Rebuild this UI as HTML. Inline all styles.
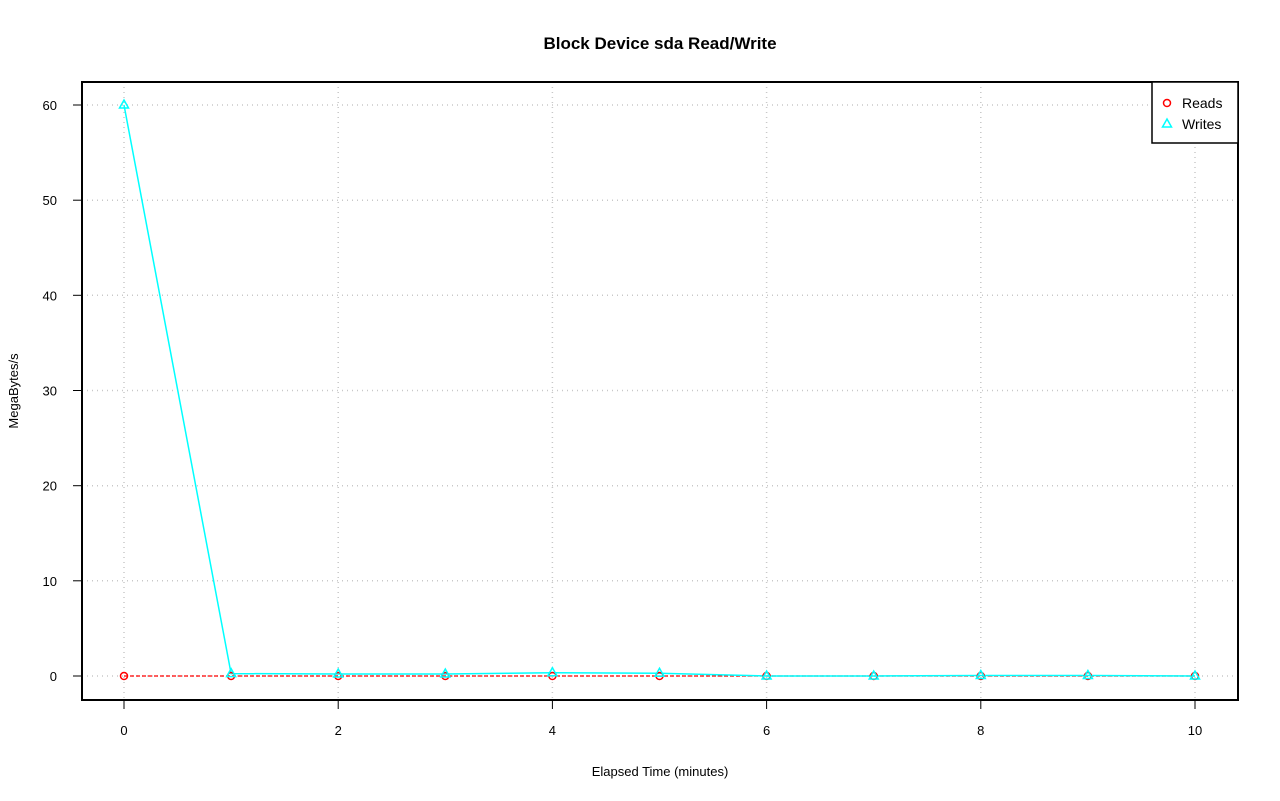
<!DOCTYPE html>
<html><head><meta charset="utf-8"><style>body{margin:0;background:#fff}svg{display:block}</style></head><body>
<svg width="1280" height="801" xmlns="http://www.w3.org/2000/svg" font-family="Liberation Sans, sans-serif">
<rect width="1280" height="801" fill="#fff"/>
<text x="660" y="49" text-anchor="middle" font-size="17" font-weight="bold">Block Device sda Read/Write</text>
<g stroke="#c8c8c8" stroke-dasharray="1,4" stroke-width="1.5">
<line x1="124" y1="82" x2="124" y2="700"/><line x1="338.2" y1="82" x2="338.2" y2="700"/><line x1="552.4" y1="82" x2="552.4" y2="700"/><line x1="766.6" y1="82" x2="766.6" y2="700"/><line x1="980.8" y1="82" x2="980.8" y2="700"/><line x1="1195" y1="82" x2="1195" y2="700"/>
<line x1="82" y1="676" x2="1238" y2="676"/><line x1="82" y1="580.8" x2="1238" y2="580.8"/><line x1="82" y1="485.7" x2="1238" y2="485.7"/><line x1="82" y1="390.5" x2="1238" y2="390.5"/><line x1="82" y1="295.3" x2="1238" y2="295.3"/><line x1="82" y1="200.2" x2="1238" y2="200.2"/><line x1="82" y1="105" x2="1238" y2="105"/>
</g>
<rect x="82" y="82" width="1156" height="618" fill="none" stroke="#000" stroke-width="2"/>
<g stroke="#000" stroke-width="1">
<line x1="124" y1="700" x2="124" y2="709"/><line x1="338.2" y1="700" x2="338.2" y2="709"/><line x1="552.4" y1="700" x2="552.4" y2="709"/><line x1="766.6" y1="700" x2="766.6" y2="709"/><line x1="980.8" y1="700" x2="980.8" y2="709"/><line x1="1195" y1="700" x2="1195" y2="709"/>
<line x1="73" y1="676" x2="82" y2="676"/><line x1="73" y1="580.8" x2="82" y2="580.8"/><line x1="73" y1="485.7" x2="82" y2="485.7"/><line x1="73" y1="390.5" x2="82" y2="390.5"/><line x1="73" y1="295.3" x2="82" y2="295.3"/><line x1="73" y1="200.2" x2="82" y2="200.2"/><line x1="73" y1="105" x2="82" y2="105"/>
</g>
<g font-size="13" text-anchor="middle">
<text x="124" y="735">0</text><text x="338.2" y="735">2</text><text x="552.4" y="735">4</text><text x="766.6" y="735">6</text><text x="980.8" y="735">8</text><text x="1195" y="735">10</text>
<text x="660" y="776">Elapsed Time (minutes)</text>
</g>
<g font-size="13" text-anchor="end">
<text x="57" y="681">0</text><text x="57" y="585.8">10</text><text x="57" y="490.7">20</text><text x="57" y="395.5">30</text><text x="57" y="300.3">40</text><text x="57" y="205.2">50</text><text x="57" y="110">60</text>
</g>
<text transform="translate(18,391) rotate(-90)" font-size="13" text-anchor="middle">MegaBytes/s</text>
<polyline fill="none" stroke="#f00" stroke-width="1.3" stroke-dasharray="4,2" points="124,676 231.1,676 338.2,676 445.3,676 552.4,676 659.5,676 766.6,676 873.7,676 980.8,676 1087.9,676 1195,676"/>
<polyline fill="none" stroke="#0ff" stroke-width="1.5" points="124,105 231.1,673.6 338.2,674 445.3,674 552.4,672.7 659.5,673.3 766.6,676 873.7,676 980.8,675.5 1087.9,675.5 1195,676"/>
<g fill="none" stroke="#f00" stroke-width="1.5">
<circle cx="124" cy="676" r="3.5"/><circle cx="231.1" cy="676" r="3.5"/><circle cx="338.2" cy="676" r="3.5"/><circle cx="445.3" cy="676" r="3.5"/><circle cx="552.4" cy="676" r="3.5"/><circle cx="659.5" cy="676" r="3.5"/><circle cx="766.6" cy="676" r="3.5"/><circle cx="873.7" cy="676" r="3.5"/><circle cx="980.8" cy="676" r="3.5"/><circle cx="1087.9" cy="676" r="3.5"/><circle cx="1195" cy="676" r="3.5"/>
</g>
<g fill="none" stroke="#0ff" stroke-width="1.5">
<path d="M124,100 l4.5,8 h-9 z"/><path d="M231.1,668.6 l4.5,8 h-9 z"/><path d="M338.2,669 l4.5,8 h-9 z"/><path d="M445.3,669 l4.5,8 h-9 z"/><path d="M552.4,667.7 l4.5,8 h-9 z"/><path d="M659.5,668.3 l4.5,8 h-9 z"/><path d="M766.6,671 l4.5,8 h-9 z"/><path d="M873.7,671 l4.5,8 h-9 z"/><path d="M980.8,670.5 l4.5,8 h-9 z"/><path d="M1087.9,670.5 l4.5,8 h-9 z"/><path d="M1195,671 l4.5,8 h-9 z"/>
</g>
<rect x="1152" y="82" width="86" height="61" fill="#fff" stroke="#000" stroke-width="1.5"/>
<circle cx="1167" cy="103" r="3.5" fill="none" stroke="#f00" stroke-width="1.5"/>
<path d="M1167,119 l4.5,8 h-9 z" fill="none" stroke="#0ff" stroke-width="1.5"/>
<text x="1182" y="108" font-size="14">Reads</text>
<text x="1182" y="129" font-size="14">Writes</text>
</svg>
</body></html>
